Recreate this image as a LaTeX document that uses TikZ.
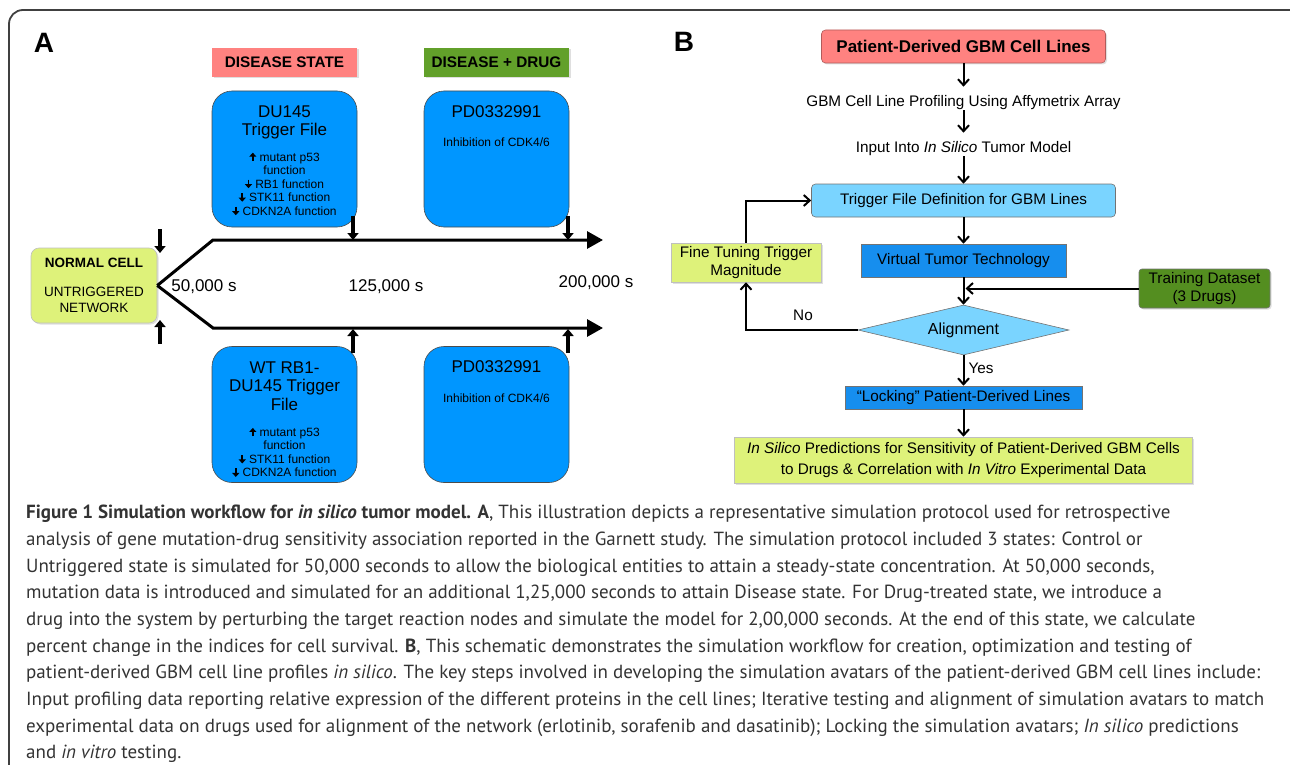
\documentclass[tikz,border=0pt]{standalone}
\usepackage{fontspec}
\setmainfont{Liberation Sans}
\newfontfamily\capfont{PT Sans}
\usepackage{tikz}
\usetikzlibrary{shapes.geometric}
\usetikzlibrary{arrows.meta,shadows}

\definecolor{salmon}{RGB}{255,130,128}
\definecolor{drugg}{RGB}{98,160,42}
\definecolor{traing}{RGB}{84,142,32}
\definecolor{cellb}{RGB}{0,150,255}
\definecolor{techb}{RGB}{22,142,238}
\definecolor{skyb}{RGB}{122,212,255}
\definecolor{limey}{RGB}{222,242,122}

\newcommand{\setfs}[2]{\fontsize{#1}{#2}\selectfont}
\newcommand{\arrup}{\tikz[baseline=0pt]{\useasboundingbox (-3.5pt,0pt) rectangle (3.5pt,8.5pt);
  \draw[line width=1.8pt,-{Triangle[length=4pt,width=7pt]}] (0pt,0pt) -- (0pt,8.5pt);}}
\newcommand{\arrdn}{\tikz[baseline=0pt]{\useasboundingbox (-3.5pt,0pt) rectangle (3.5pt,8.5pt);
  \draw[line width=1.8pt,-{Triangle[length=4pt,width=7pt]}] (0pt,8.5pt) -- (0pt,0pt);}}

\begin{document}
\begin{tikzpicture}[x=1pt,y=-1pt]

\tikzset{shd/.style = {drop shadow={shadow xshift=1.5pt,shadow yshift=-1.5pt,opacity=0.25}}}
\tikzset{lbl/.style = {inner sep=0pt,font=\setfs{28}{30}\bfseries}}
\tikzset{hdr/.style = {shape=rectangle,minimum width=145pt,minimum height=29pt,inner sep=0pt,font=\setfs{15.3}{18}\bfseries,shd}}
\tikzset{cellbox/.style = {shape=rectangle,rounded corners=20pt,fill=cellb,draw=black!70,line width=0.6pt,minimum width=145pt,minimum height=136pt}}
\tikzset{big/.style = {inner sep=0pt,align=center,font=\setfs{17}{18.5}}}
\tikzset{small/.style = {inner sep=0pt,align=center,font=\setfs{12}{13.5}}}
\tikzset{tm/.style = {inner sep=0pt,font=\setfs{17}{20}}}
\tikzset{tline/.style = {line width=3pt,-{Triangle[length=16pt,width=17pt]}}}
\tikzset{pin/.style = {line width=3.5pt,-{Triangle[length=7pt,width=11pt]}}}
\tikzset{bbox/.style = {shape=rectangle,draw=black!55,line width=0.6pt,inner sep=0pt,align=center,font=\setfs{15.3}{18}}}
\tikzset{plain/.style = {inner sep=0pt,font=\setfs{15.3}{18}}}
\tikzset{flow/.style = {line width=2pt,-{Straight Barb[length=6pt,width=11pt]}}}
\tikzset{captxt/.style = {inner sep=0pt,align=left,text=black!80,font=\capfont\setfs{19}{26.67}}}

\useasboundingbox (0,0) rectangle (1290,765);
\draw[line width=1.8pt,black!75,rounded corners=14pt] (9,775) -- (9,10) -- (1300,10);

\node[lbl] (la) at (44,43) {A};
\node[lbl] (lb) at (684,42) {B};

% panel A
\node[hdr,fill=salmon] (ds) at (284.5,62.5) {DISEASE STATE};
\node[hdr,fill=drugg] (dd) at (496.5,62.5) {DISEASE + DRUG};

\node[cellbox] (du) at (284.5,159) {};
\node[cellbox] (pa) at (496.5,159) {};
\node[cellbox] (wt) at (284.5,414.5) {};
\node[cellbox] (pb) at (496.5,414.5) {};

\node[big] (dut) at (284.5,122.5) {DU145\\Trigger File};
\node[small] (dul) at (284.5,184) {\arrup\ mutant p53\\function\\\arrdn\ RB1 function\\\arrdn\ STK11 function\\\arrdn\ CDKN2A function};
\node[big] (pat) at (496.5,112) {PD0332991};
\node[small] (pas) at (496.5,142) {Inhibition of CDK4/6};
\node[big] (wtt) at (284.5,386) {WT RB1-\\DU145 Trigger\\File};
\node[small] (wtl) at (284.5,452.5) {\arrup\ mutant p53\\function\\\arrdn\ STK11 function\\\arrdn\ CDKN2A function};
\node[big] (pbt) at (496.5,367) {PD0332991};
\node[small] (pbs) at (496.5,398) {Inhibition of CDK4/6};

\node[shape=rectangle,rounded corners=8pt,fill=limey,draw=black!25,line width=0.6pt,minimum width=126pt,minimum height=75pt,inner sep=0pt,align=center,font=\setfs{13.5}{16},shd] (nc) at (94,285.5) {\textbf{NORMAL CELL}\\[13pt]UNTRIGGERED\\NETWORK};

\node[tm] (t50) at (204,287) {50,000 s};
\node[tm] (t125) at (386,287) {125,000 s};
\node[tm] (t200) at (596,283) {200,000 s};

%timeline
\coordinate (k1) at (213,240);
\coordinate (e1) at (603,240);
\coordinate (k2) at (213,328);
\coordinate (e2) at (603,328);
\draw[tline] (nc.east) -- (k1) -- (e1);
\draw[tline] (nc.east) -- (k2) -- (e2);

\coordinate (a1) at (160,229);
\coordinate (a2) at (160,253);
\coordinate (b1) at (160,344);
\coordinate (b2) at (160,320);
\coordinate (c1) at (353,216);
\coordinate (c2) at (353,240);
\coordinate (d1) at (568,216);
\coordinate (d2) at (568,240);
\coordinate (f1) at (353,353);
\coordinate (f2) at (353,329);
\coordinate (g1) at (568,353);
\coordinate (g2) at (568,329);
\draw[pin] (a1) -- (a2);
\draw[pin] (b1) -- (b2);
\draw[pin] (c1) -- (c2);
\draw[pin] (d1) -- (d2);
\draw[pin] (f1) -- (f2);
\draw[pin] (g1) -- (g2);

% panel B
\node[bbox,fill=salmon,draw=salmon!70!black,rounded corners=4pt,minimum width=284pt,minimum height=33pt,font=\setfs{17}{20}\bfseries,shd] (pdg) at (963.5,46.5) {Patient-Derived GBM Cell Lines};
\node[plain] (prof) at (963.5,103) {GBM Cell Line Profiling Using Affymetrix Array};
\node[plain] (inp) at (963.5,149) {Input Into \textit{In Silico} Tumor Model};
\node[bbox,fill=skyb,rounded corners=4pt,minimum width=304pt,minimum height=33pt] (trg) at (963.5,200.5) {Trigger File Definition for GBM Lines};
\node[bbox,fill=techb,minimum width=205pt,minimum height=33pt] (vtt) at (963.5,260.5) {Virtual Tumor Technology};
\node[shape=diamond,aspect=4.2,fill=skyb,draw=black!55,line width=0.6pt,minimum width=211pt,minimum height=50pt,inner sep=0pt,font=\setfs{16}{18}] (aln) at (963.5,330) {Alignment};
\node[bbox,fill=traing,rounded corners=3pt,minimum width=131pt,minimum height=39pt,shd] (trn) at (1204.5,288.5) {Training Dataset\\(3 Drugs)};
\node[bbox,fill=limey,draw=black!25,minimum width=150pt,minimum height=39pt,shd] (fin) at (746,262.5) {Fine Tuning Trigger\\Magnitude};
\node[bbox,fill=techb,minimum width=237pt,minimum height=23pt] (lck) at (963.5,397.5) {“Locking” Patient-Derived Lines};
\node[bbox,fill=limey,draw=black!25,minimum width=458pt,minimum height=46pt,font=\setfs{15.3}{21},shd] (prd) at (963.5,460) {\textit{In Silico} Predictions for Sensitivity of Patient-Derived GBM Cells\\to Drugs \& Correlation with \textit{In Vitro} Experimental Data};
\coordinate (mrg) at (vtt.south |- trn.west);

%edges
\draw[flow,shorten >=9pt] (pdg.south) -- (prof.north);
\draw[flow,shorten >=9pt] (prof.south) -- (inp.north);
\draw[flow] (inp.south) -- (trg.north);
\draw[flow] (trg) -- (vtt);
\draw[flow] (vtt) -- (aln);
\draw[flow,shorten >=2pt] (trn.west) -- (mrg);
\draw[flow] (aln.west) -| (fin.south);
\draw[flow] (fin.north) |- (trg.west);
\draw[flow] (aln.south) -- (lck.north);
\draw[flow] (lck.south) -- (prd.north);
\node[plain] (no) at (803,315) {No};
\node[plain] (yes) at (981,368) {Yes};

% caption
\node[captxt,anchor=north west] (capt) at (26,505) {\textbf{Figure 1 Simulation workflow for \textit{in silico} tumor model. A}, This illustration depicts a representative simulation protocol used for retrospective\\
analysis of gene mutation-drug sensitivity association reported in the Garnett study. The simulation protocol included 3 states: Control or\\
Untriggered state is simulated for 50,000 seconds to allow the biological entities to attain a steady-state concentration. At 50,000 seconds,\\
mutation data is introduced and simulated for an additional 1,25,000 seconds to attain Disease state. For Drug-treated state, we introduce a\\
drug into the system by perturbing the target reaction nodes and simulate the model for 2,00,000 seconds. At the end of this state, we calculate\\
percent change in the indices for cell survival. \textbf{B}, This schematic demonstrates the simulation workflow for creation, optimization and testing of\\
patient-derived GBM cell line profiles \textit{in silico}. The key steps involved in developing the simulation avatars of the patient-derived GBM cell lines include:\\
Input profiling data reporting relative expression of the different proteins in the cell lines; Iterative testing and alignment of simulation avatars to match\\
experimental data on drugs used for alignment of the network (erlotinib, sorafenib and dasatinib); Locking the simulation avatars; \textit{In silico} predictions\\
and \textit{in vitro} testing.};

\end{tikzpicture}
\end{document}
